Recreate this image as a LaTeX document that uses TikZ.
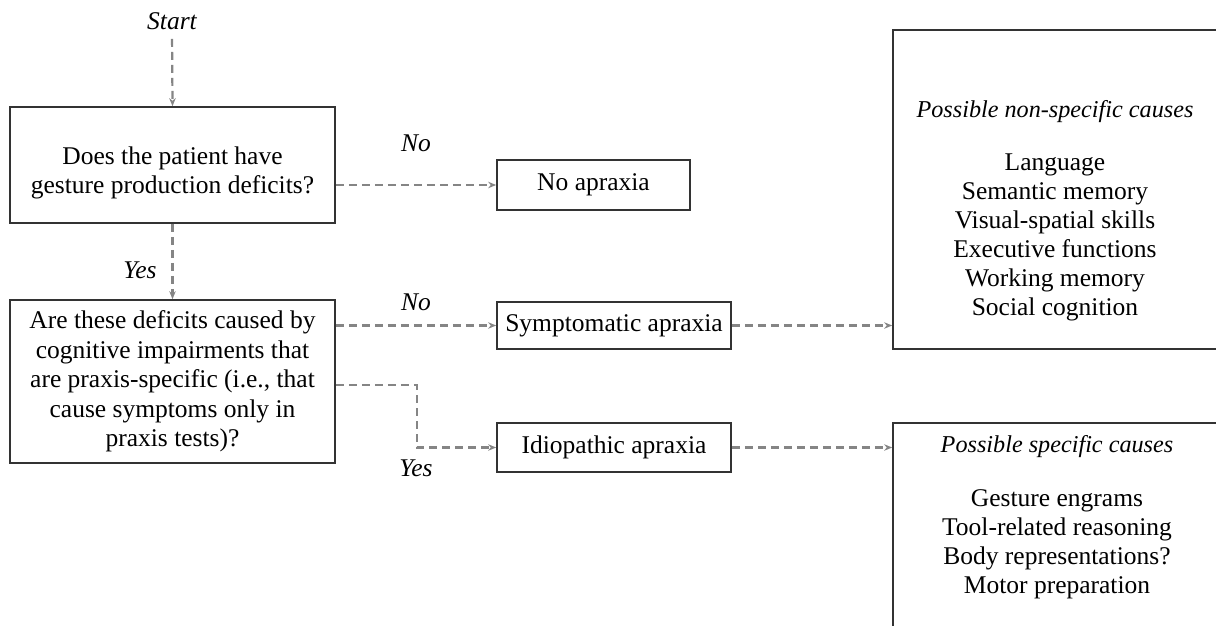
\documentclass[tikz,border=0pt]{standalone}
\usepackage{fontspec}
\setmainfont{Liberation Serif}
\usetikzlibrary{arrows.meta}
\definecolor{boxline}{HTML}{333333}
\definecolor{arrgray}{HTML}{858585}
\begin{document}
\begin{tikzpicture}[x=1pt,y=-1pt,
  box/.style={draw=boxline,line width=1.7pt,inner sep=0pt,align=center,font=\fontsize{25.5}{29.5}\selectfont},
  lbl/.style={font=\fontsize{25.5}{29.5}\selectfont\itshape,inner sep=0pt},
  txt/.style={font=\fontsize{25.5}{29}\selectfont,align=center,inner sep=0pt},
  ttl/.style={font=\fontsize{24.2}{29}\selectfont\itshape,inner sep=0pt},
  flow/.style={draw=arrgray,line width=2.2pt,dash pattern=on 8pt off 5pt,-{Stealth[length=8pt,width=6.5pt]}}]
\useasboundingbox (0,0) rectangle (1216,626);
\node[lbl] (start) at (172,21) {Start};
\node[box,minimum width=325,minimum height=116,
  label={[txt,yshift=-8pt]center:Does the patient have\\gesture production deficits?}] (b1) at (172.5,165) {};
\node[box,minimum width=325,minimum height=163] (b2) at (172.5,381.5) {Are these deficits caused by\\cognitive impairments that\\are praxis-specific (i.e., that\\cause symptoms only in\\praxis tests)?};
\node[box,minimum width=193,minimum height=50] (noap) at (593.5,185) {No apraxia};
\node[box,minimum width=234,minimum height=47] (sym) at (614,325.5) {Symptomatic apraxia};
\node[box,minimum width=234,minimum height=49] (idio) at (614,447.5) {Idiopathic apraxia};
\node[box,minimum width=325,minimum height=319] (r1) at (1055.5,189.5) {};
\node[box,minimum width=325,minimum height=230] (r2) at (1055.5,538) {};
\node[ttl] (r1t) at (1055,112) {Possible non-specific causes};
\node[txt] (r1l) at (1055,237) {Language\\Semantic memory\\Visual-spatial skills\\Executive functions\\Working memory\\Social cognition};
\node[ttl] (r2t) at (1057,447) {Possible specific causes};
\node[txt] (r2l) at (1057,544) {Gesture engrams\\Tool-related reasoning\\Body representations?\\Motor preparation};
\draw[flow,shorten <=9pt] (start.south) -- (b1.north);
\draw[flow] (b1.south) -- (b2.north);
\node[lbl] (yes1) at (140,270) {Yes};
\draw[flow] (b1.east |- noap.west) -- (noap.west);
\node[lbl] (no1) at (416,143) {No};
\draw[flow] (b2.east |- sym.west) -- (sym.west);
\node[lbl] (no2) at (416,302) {No};
\coordinate (ys) at ([yshift=-3.5pt]b2.east);
\draw[flow] (ys) -- ++(81,0) |- (idio.west);
\node[lbl] (yes2) at (416,468) {Yes};
\draw[flow] (sym.east) -- (r1.west |- sym.east);
\draw[flow] (idio.east) -- (r2.west |- idio.east);
\end{tikzpicture}
\end{document}
